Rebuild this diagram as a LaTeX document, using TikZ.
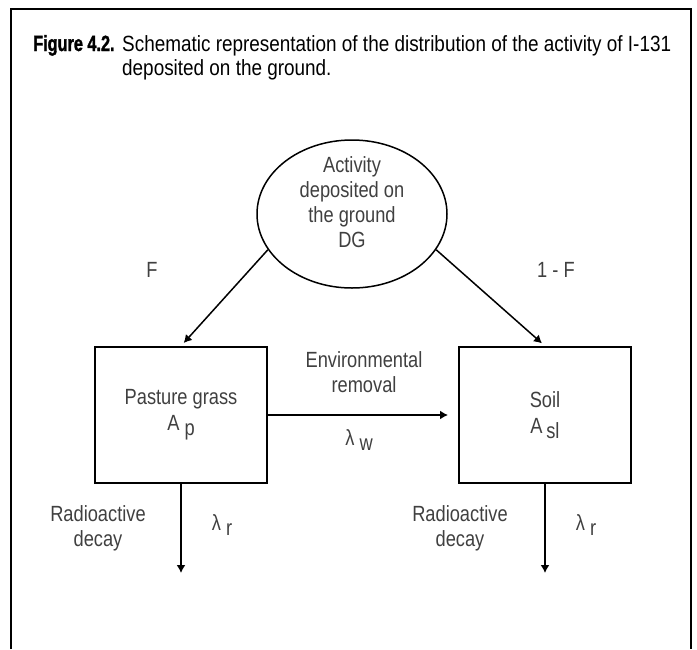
\documentclass[tikz,border=0pt]{standalone}
\usepackage{fontspec}
\setmainfont{Liberation Sans}
\newfontfamily\titlefont{Liberation Sans}[FakeStretch=0.86]
\newfontfamily\figfont{Liberation Sans Bold}[FakeStretch=0.74,FakeBold=1.5]
\newfontfamily\labfont{Liberation Sans}[FakeStretch=0.83]
\usetikzlibrary{shapes.geometric,arrows.meta}
\begin{document}
\begin{tikzpicture}[x=1pt,y=-1pt,
  lab/.style={font=\labfont\fontsize{22}{25}\selectfont, text=black!75, inner sep=0pt, align=center},
  boxnode/.style={draw, line width=2pt, minimum width=172pt, minimum height=136pt, inner sep=0pt, align=center, font=\labfont\fontsize{22}{26}\selectfont, text=black!75},
  arr/.style={line width=1.5pt, -{Latex[length=8pt,width=9pt]}},
  frame/.style={line width=2pt}
]
\useasboundingbox (0,0) rectangle (697,649);
% frame
\coordinate (fbl) at (11,649);
\coordinate (ftl) at (11,9);
\coordinate (ftr) at (691,9);
\coordinate (fbr) at (691,649);
\draw[frame] (fbl) -- (ftl) -- (ftr) -- (fbr);
% title
\node[anchor=base west, inner sep=0pt, font=\figfont\fontsize{22}{25}\selectfont] (fig) at (33,51) {Figure 4.2.};
\node[anchor=base west, inner sep=0pt, font=\titlefont\fontsize{22}{25}\selectfont] (t1) at (122,51) {Schematic representation of the distribution of the activity of I-131};
\node[anchor=base west, inner sep=0pt, font=\titlefont\fontsize{22}{25}\selectfont] (t2) at (122,75) {deposited on the ground.};
% ellipse
\node[ellipse, draw, line width=1.5pt, minimum width=190pt, minimum height=148pt, inner sep=0pt] (circ) at (352,214) {};
\node[lab] (circtext) at (352,202) {Activity\\deposited on\\the ground\\DG};
% boxes
\node[boxnode] (lbox) at (181,415) {Pasture grass\\A\ \raisebox{-5pt}{p}};
\node[boxnode] (rbox) at (545,415) {Soil\\A\,\raisebox{-5pt}{sl}};
% arrows
\draw[arr, shorten >=4pt] (circ.203) -- (lbox.north);
\draw[arr, shorten >=4pt] (circ.337) -- (rbox.north);
\draw[arr, shorten >=10pt] (lbox.east) -- (rbox.west);
\coordinate (ldec) at (181,573);
\coordinate (rdec) at (545,573);
\draw[arr] (lbox.south) -- (ldec);
\draw[arr] (rbox.south) -- (rdec);
% labels
\node[lab] (lf) at (152,270) {F};
\node[lab] (rf) at (556,270) {1 - F};
\node[lab] (env) at (364,372) {Environmental\\removal};
\node[lab] (lw) at (359,440) {λ \raisebox{-5pt}{w}};
\node[lab] (lrad) at (98,528) {Radioactive\\decay};
\node[lab] (rrad) at (460,528) {Radioactive\\decay};
\node[lab] (llr) at (222,525) {λ \raisebox{-5pt}{r}};
\node[lab] (rlr) at (586,525) {λ \raisebox{-5pt}{r}};
\end{tikzpicture}
\end{document}
